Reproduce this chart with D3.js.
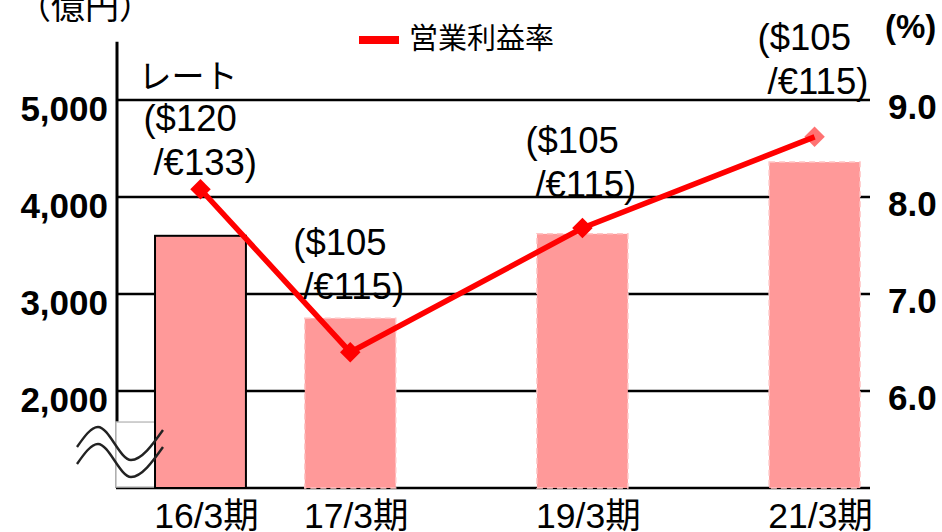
<!DOCTYPE html>
<html>
<head>
<meta charset="utf-8">
<script src="https://d3js.org/d3.v7.min.js"></script>
<style>
  body { margin: 0; background: #fff; }
  text { font-family: "Liberation Sans", Arial, "Noto Sans CJK JP", sans-serif; fill: #000; }
  .jp { font-family: "Liberation Sans", "Noto Sans CJK JP", sans-serif; }
</style>
</head>
<body>
<div id="chart"></div>
<script>
    // data
    var categories = ["16/3期", "17/3期", "19/3期", "21/3期"];
    var fiscalYears = [16, 17, 19, 21];
    var sales = [3600, 2750, 3620, 4360];          // 億円 (bars)
    var opMargin = [8.08, 6.40, 7.68, 8.62];        // 営業利益率 (%)
    var usdRate = [120, 105, 105, 105];
    var eurRate = [133, 115, 115, 115];
    var leftTicks = [2000, 3000, 4000, 5000];
    var rightTicks = [6.0, 7.0, 8.0, 9.0];

    // layout only: baseline of the first rate line for each category
    var rateLabelTop = [131, 255, 153, 50];

    var width = 942, height = 532;
    var margin = {top: 100, right: 72, bottom: 44, left: 116};

    var svg = d3.select("#chart")
        .append("svg")
        .attr("width", width)
        .attr("height", height);

    // skipped fiscal years take about half a slot on the x axis
    var slot = fiscalYears.map(function (fy, i) {
        return i + 0.55 * (fy - fiscalYears[0] - i);
    });

    var x = d3.scaleLinear()
        .domain([-0.564, 4.47])
        .range([margin.left, width - margin.right]);
    var unit = x(1) - x(0);
    var barW = unit * 0.607;

    var y = d3.scaleLinear()
        .domain([1000, 5000])
        .range([height - margin.bottom, margin.top]);

    var y2 = d3.scaleLinear()
        .domain([5, 9])
        .range([height - margin.bottom, margin.top]);

    // grid lines + baseline
    svg.append("g")
        .selectAll("line")
        .data(leftTicks.concat([1000]))
        .enter()
        .append("line")
        .attr("x1", x.range()[0])
        .attr("x2", x.range()[1])
        .attr("y1", function (d) { return y(d); })
        .attr("y2", function (d) { return y(d); })
        .attr("stroke", "#000")
        .attr("stroke-width", 2.5);

    // left axis line
    svg.append("line")
        .attr("x1", x.range()[0] + 1)
        .attr("x2", x.range()[0] + 1)
        .attr("y1", y(5600))
        .attr("y2", y(1000))
        .attr("stroke", "#000")
        .attr("stroke-width", 3);

    // left tick labels
    svg.append("g")
        .selectAll("text")
        .data(leftTicks)
        .enter()
        .append("text")
        .attr("x", 108)
        .attr("y", function (d) { return y(d) + 21; })
        .attr("text-anchor", "end")
        .style("font-size", "35px")
        .style("font-weight", "bold")
        .text(function (d) { return d3.format(",")(d); });

    // right tick labels
    svg.append("g")
        .selectAll("text")
        .data(rightTicks)
        .enter()
        .append("text")
        .attr("x", 888)
        .attr("y", function (d) { return y2(d) + 19; })
        .style("font-size", "35px")
        .style("font-weight", "bold")
        .text(function (d) { return d3.format(".1f")(d); });

    // axis break box
    svg.append("rect")
        .attr("x", x.range()[0])
        .attr("y", y(1680))
        .attr("width", 41)
        .attr("height", y(1000) - y(1680) - 1)
        .attr("fill", "#fff")
        .attr("stroke", "#c0c0c0")
        .attr("stroke-width", 1.5);

    // bars
    svg.append("g")
        .selectAll("rect")
        .data(sales)
        .enter()
        .append("rect")
        .attr("x", function (d, i) { return x(slot[i]) - barW / 2; })
        .attr("y", function (d) { return y(d); })
        .attr("width", barW)
        .attr("height", function (d) { return y(1000) - y(d); })
        .attr("fill", "#ff9999")
        .attr("stroke", function (d, i) { return i === 0 ? "#000" : "#ffc4c4"; })
        .attr("stroke-width", function (d, i) { return i === 0 ? 2 : 1.5; })
        .attr("stroke-dasharray", function (d, i) { return i === 0 ? null : "6,4"; });

    // wavy break marks
    var wave = d3.line().curve(d3.curveMonotoneX);
    [0, 17].forEach(function (off) {
        svg.append("path")
            .attr("d", wave([[77, 447 + off], [98, 427 + off], [131, 460 + off], [163, 430 + off]]))
            .attr("fill", "none")
            .attr("stroke", "#222")
            .attr("stroke-width", 2.4);
    });

    // markers (drawn under the line)
    svg.append("g")
        .selectAll("path")
        .data(opMargin)
        .enter()
        .append("path")
        .attr("d", d3.symbol().type(d3.symbolSquare).size(210))
        .attr("transform", function (d, i) {
            return "translate(" + x(slot[i]) + "," + y2(d) + ") rotate(45)";
        })
        .attr("fill", function (d, i) { return i === opMargin.length - 1 ? "#ff7272" : "#ff0000"; });

    // line
    var line = d3.line()
        .x(function (d, i) { return x(slot[i]); })
        .y(function (d) { return y2(d); });

    svg.append("path")
        .datum(opMargin)
        .attr("d", line)
        .attr("fill", "none")
        .attr("stroke", "#ff0000")
        .attr("stroke-width", 5.5);

    // exchange rate notes
    var notes = svg.append("g").style("font-size", "36.5px");
    categories.forEach(function (c, i) {
        var lx = x(slot[i]) - 57;
        notes.append("text")
            .attr("x", lx)
            .attr("y", rateLabelTop[i])
            .text("($" + usdRate[i]);
        notes.append("text")
            .attr("x", lx + 10)
            .attr("y", rateLabelTop[i] + 44)
            .text("/€" + eurRate[i] + ")");
    });
    notes.append("text")
        .attr("class", "jp")
        .attr("x", x(slot[0]) - 62)
        .attr("y", rateLabelTop[0] - 43)
        .style("font-size", "33px")
        .text("レート");

    // x labels
    svg.append("g")
        .selectAll("text")
        .data(categories)
        .enter()
        .append("text")
        .attr("class", "jp")
        .attr("x", function (d, i) { return x(slot[i]) + 6; })
        .attr("y", 528)
        .attr("text-anchor", "middle")
        .style("font-size", "35.5px")
        .text(function (d) { return d; });

    // unit labels
    svg.append("text")
        .attr("class", "jp")
        .attr("x", 17)
        .attr("y", 19)
        .style("font-size", "34px")
        .text("（億円）");

    svg.append("text")
        .attr("x", 885)
        .attr("y", 38)
        .style("font-size", "33px")
        .style("font-weight", "bold")
        .text("(%)");

    // legend
    svg.append("rect")
        .attr("x", 359)
        .attr("y", 36)
        .attr("width", 40)
        .attr("height", 8)
        .attr("fill", "#ff0000");
    svg.append("text")
        .attr("class", "jp")
        .attr("x", 409)
        .attr("y", 49)
        .style("font-size", "29px")
        .text("営業利益率");
</script>
</body>
</html>
